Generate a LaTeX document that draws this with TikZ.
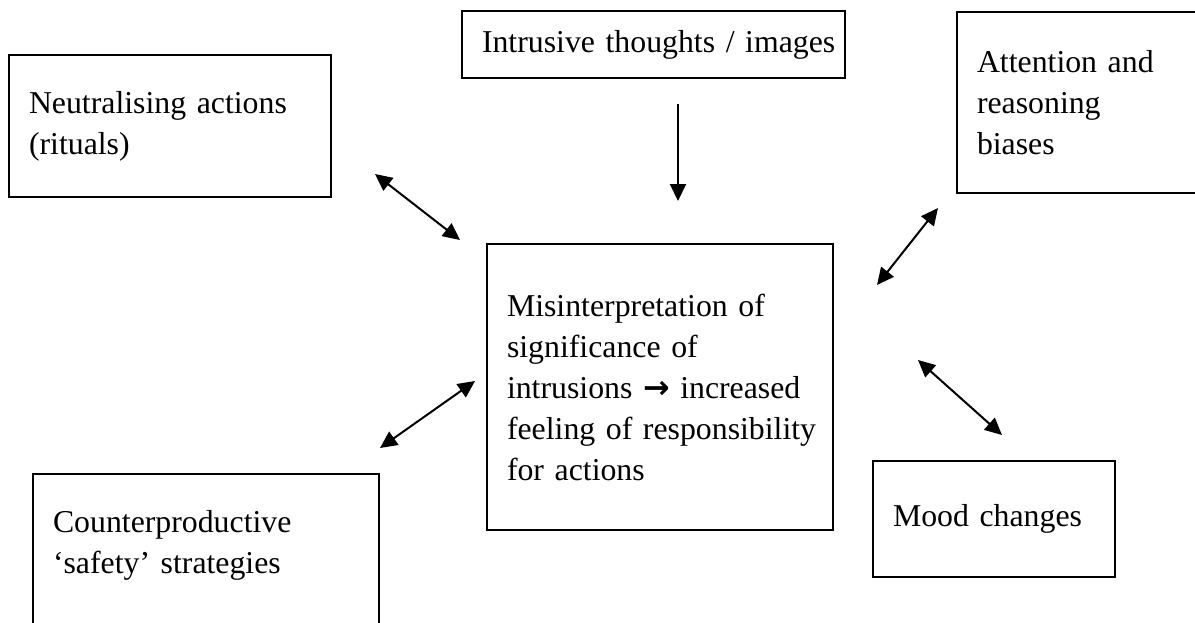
\documentclass[tikz,border=0pt]{standalone}
\usepackage{fontspec}
\setmainfont{Liberation Serif}
\newfontfamily\arrowfont{DejaVu Sans}
\usetikzlibrary{arrows.meta}

\begin{document}
\begin{tikzpicture}[x=1pt, y=-1pt,
  box/.style={draw, line width=1.2pt, align=left, inner xsep=20pt, inner ysep=0pt,
    font=\fontsize{31.8}{41}\selectfont,
    execute at begin node={\hyphenpenalty=10000 \exhyphenpenalty=10000 }},
  oneway/.style={line width=2pt, -{Triangle[length=17pt, width=16pt]}},
  twoway/.style={line width=2pt, {Triangle[length=17pt, width=16pt]}-{Triangle[length=17pt, width=16pt]}}]
\useasboundingbox (0,0) rectangle (1195,622);
\clip (0,0) rectangle (1195,622);

\node[box, text width=343pt, minimum height=67pt] (intr) at (653.5,44.5) {Intrusive~thoughts~/~images};
\node[box, text width=282pt, minimum height=142pt] (neut) at (170,126) {Neutralising actions\\(rituals)};
\node[box, text width=218pt, minimum height=181pt] (attn) at (1086,102.5) {Attention and\\reasoning\\biases};
\node[box, text width=306pt, minimum height=286pt] (cent) at (660,387) {Misinterpretation of\\significance of\\intrusions {\arrowfont\bfseries →} increased\\feeling~of~responsibility\\for actions};
\node[box, text width=202pt, minimum height=116pt] (mood) at (994,519) {Mood changes};
\node[box, text width=306pt, minimum height=162pt] (safe) at (206,555) {Counterproductive\\‘safety’ strategies\par\vspace{-15pt}\mbox{}};

\coordinate (intr-end) at (678,104);
\coordinate (cent-top) at (678,201);
\coordinate (neut-end) at (375,174);
\coordinate (cent-nw) at (460,240);
\coordinate (safe-end) at (380,448);
\coordinate (cent-sw) at (475,381);
\coordinate (attn-end) at (938,208);
\coordinate (cent-ne) at (877,285);
\coordinate (mood-end) at (1002,435);
\coordinate (cent-se) at (918,360);

\draw[oneway] (intr-end) -- (cent-top);
\draw[twoway] (neut-end) -- (cent-nw);
\draw[twoway] (safe-end) -- (cent-sw);
\draw[twoway] (attn-end) -- (cent-ne);
\draw[twoway] (mood-end) -- (cent-se);
\end{tikzpicture}
\end{document}
